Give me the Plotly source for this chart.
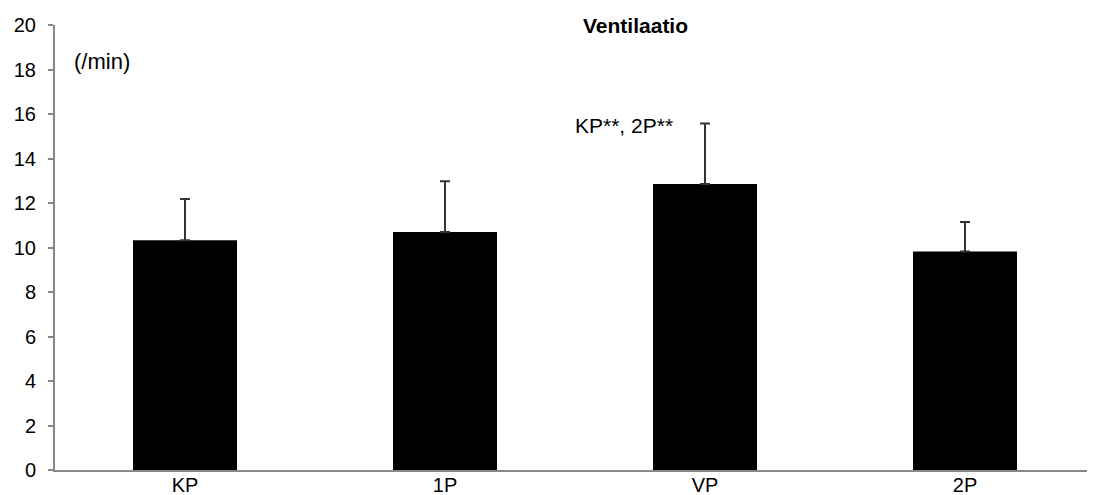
import plotly.graph_objects as go

categories = ["KP", "1P", "VP", "2P"]
values = [10.33, 10.7, 12.85, 9.82]
errors = [1.85, 2.28, 2.72, 1.33]
title_text = "Ventilaatio"
unit_text = "(/min)"
sig_text = "KP**, 2P**"

FONT = "Liberation Sans, Arial, sans-serif"

fig = go.Figure()
fig.add_trace(go.Bar(
    x=categories, y=values,
    marker=dict(color="black", line=dict(width=0)),
    width=0.4,
    error_y=dict(type="data", symmetric=False, array=errors,
                 arrayminus=[0] * len(errors),
                 color="#333333", thickness=2, width=5),
))

fig.update_layout(
    width=1087, height=487,
    margin=dict(l=47, r=0, t=17, b=25),
    plot_bgcolor="white", paper_bgcolor="white",
    showlegend=False,
    font=dict(family=FONT, size=20, color="black"),
    bargap=0.6,
)
fig.update_yaxes(range=[0, 20], dtick=2, showgrid=False, zeroline=False,
                 showline=True, linecolor="#888888", linewidth=2,
                 ticks="outside", ticklen=5, tickcolor="#888888", tickwidth=2,
                 ticklabelstandoff=8, automargin=False,
                 tickfont=dict(size=20, family=FONT, color="black"))
fig.update_xaxes(showgrid=False, showline=True, linecolor="#888888", linewidth=2,
                 ticks="", automargin=False, ticklabelstandoff=-4,
                 tickfont=dict(size=20, family=FONT, color="black"))

fig.add_annotation(text="<b>" + title_text + "</b>", xref="paper", yref="y",
                   x=0.5577, y=20, xanchor="center", yanchor="middle",
                   showarrow=False, font=dict(size=21, family=FONT, color="black"))
fig.add_annotation(text=unit_text, xref="paper", yref="y",
                   x=0.0163, y=18.34, xanchor="left", yanchor="middle",
                   showarrow=False, font=dict(size=22, family=FONT, color="black"))
fig.add_annotation(text=sig_text, xref="paper", yref="y",
                   x=0.498, y=15.5, xanchor="left", yanchor="middle",
                   showarrow=False, font=dict(size=21, family=FONT, color="black"))

fig.write_html("out.html")
